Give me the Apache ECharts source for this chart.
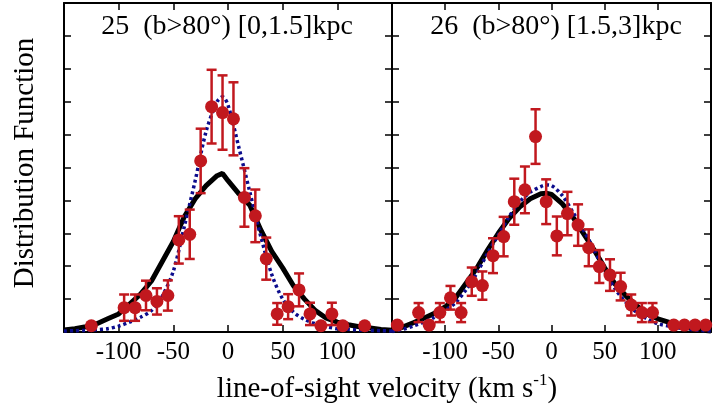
<!DOCTYPE html>
<html>
<head>
<meta charset="utf-8">
<script src="https://cdn.jsdelivr.net/npm/echarts@6/dist/echarts.min.js"></script>
<style>
  html, body { margin: 0; padding: 0; background: #fff; }
  #chart { width: 714px; height: 413px; }
</style>
</head>
<body>
<div id="chart"></div>
<script>
// x axis ticks (km/s)
var velTicks = [-100, -50, 0, 50, 100];

// panel 25: model curves
var leftModelV = [-150, -140, -130, -120, -110, -100, -90, -80, -70, -60, -50, -40, -30, -20, -10, -5, 0, 10, 20, 30, 40, 50, 60, 70, 80, 90, 100, 110, 120, 130, 140, 150];
var leftSolid  = [0.06, 0.10, 0.16, 0.25, 0.40, 0.55, 0.85, 1.15, 1.55, 2.15, 2.75, 3.50, 4.05, 4.45, 4.75, 4.82, 4.60, 4.20, 3.85, 3.10, 2.45, 1.95, 1.40, 1.00, 0.65, 0.42, 0.30, 0.22, 0.16, 0.12, 0.08, 0.05];
var leftDotted = [0.03, 0.04, 0.05, 0.07, 0.10, 0.18, 0.30, 0.45, 0.65, 1.10, 1.85, 3.20, 4.60, 6.10, 7.00, 7.15, 6.90, 5.60, 4.25, 2.90, 1.75, 1.00, 0.60, 0.38, 0.25, 0.16, 0.10, 0.08, 0.06, 0.05, 0.04, 0.03];

// panel 25: observed histogram
var leftObsV = [-125, -95, -85, -75, -65, -55, -45, -35, -25, -15, -5, 5, 15, 25, 35, 45, 55, 65, 75, 85, 95, 105, 125];
var leftObs  = [0.19, 0.74, 0.74, 1.11, 0.93, 1.11, 2.80, 2.97, 5.20, 6.85, 6.67, 6.48, 4.09, 3.53, 2.23, 0.55, 0.77, 1.28, 0.55, 0.19, 0.55, 0.19, 0.19];
var leftErr  = [0, 0.40, 0.40, 0.45, 0.40, 0.46, 0.72, 0.75, 0.98, 1.12, 1.13, 1.11, 0.89, 0.80, 0.64, 0.33, 0.38, 0.50, 0.34, 0, 0.34, 0, 0];

// panel 26: model curves
var rightModelV = [-150, -140, -130, -120, -110, -100, -90, -80, -70, -60, -50, -40, -30, -20, -10, -5, 0, 10, 20, 30, 40, 50, 60, 70, 80, 90, 100, 110, 120, 130, 140, 150];
var rightSolid  = [0.03, 0.15, 0.28, 0.42, 0.57, 0.76, 1.05, 1.50, 1.95, 2.50, 3.00, 3.45, 3.80, 4.05, 4.20, 4.22, 4.18, 3.90, 3.50, 3.00, 2.50, 1.95, 1.45, 1.10, 0.80, 0.55, 0.40, 0.30, 0.20, 0.12, 0.06, 0.03];
var rightDotted = [0.02, 0.08, 0.18, 0.30, 0.45, 0.65, 0.90, 1.30, 1.80, 2.40, 2.95, 3.50, 3.95, 4.25, 4.42, 4.47, 4.45, 4.15, 3.65, 3.10, 2.50, 1.85, 1.30, 0.90, 0.60, 0.40, 0.25, 0.18, 0.12, 0.08, 0.05, 0.03];

// panel 26: observed histogram
var rightObsV = [-145, -125, -115, -105, -95, -85, -75, -65, -55, -45, -35, -25, -15, -5, 5, 15, 25, 35, 45, 55, 65, 75, 85, 95, 115, 125, 135, 145];
var rightObs  = [0.21, 0.59, 0.21, 0.59, 1.04, 0.59, 1.53, 1.41, 2.32, 2.90, 3.96, 4.32, 5.94, 3.96, 2.92, 3.60, 3.25, 2.56, 1.99, 1.73, 1.38, 0.82, 0.59, 0.59, 0.21, 0.21, 0.21, 0.21];
var rightErr  = [0, 0.29, 0, 0.29, 0.36, 0.29, 0.43, 0.43, 0.53, 0.60, 0.70, 0.71, 0.83, 0.68, 0.59, 0.66, 0.63, 0.56, 0.50, 0.48, 0.42, 0.32, 0.29, 0.29, 0, 0, 0, 0];

var RED = '#c1181e';
var BLUE = '#0b0b8c';
var FONT = 'Liberation Serif';

function zip(xs, ys) {
    var out = [];
    for (var i = 0; i < xs.length; i++) out.push([xs[i], ys[i]]);
    return out;
}
function errData(xs, ys, es) {
    var out = [];
    for (var i = 0; i < xs.length; i++) {
        if (es[i] > 0) out.push([xs[i], ys[i] - es[i], ys[i] + es[i]]);
    }
    return out;
}
function renderErr(params, api) {
    var top = api.coord([api.value(0), api.value(2)]);
    var bot = api.coord([api.value(0), api.value(1)]);
    var st = { stroke: RED, lineWidth: 2.5 };
    return {
        type: 'group',
        children: [
            { type: 'line', shape: { x1: top[0], y1: top[1], x2: bot[0], y2: bot[1] }, style: st },
            { type: 'line', shape: { x1: top[0] - 5, y1: top[1], x2: top[0] + 5, y2: top[1] }, style: st },
            { type: 'line', shape: { x1: bot[0] - 5, y1: bot[1], x2: bot[0] + 5, y2: bot[1] }, style: st }
        ]
    };
}

function xAxisFor(grid, pos) {
    return {
        gridIndex: grid, type: 'value', position: pos, min: -150, max: 150, interval: 50,
        axisLine: { onZero: false, lineStyle: { color: '#000', width: 2 } },
        axisTick: { inside: true, length: 7, lineStyle: { color: '#000', width: 1.5 } },
        splitLine: { show: false },
        axisLabel: {
            show: pos === 'bottom', color: '#000', fontFamily: FONT, fontSize: 25, margin: 8,
            formatter: function (v) { return velTicks.indexOf(v) >= 0 ? String(v) : ''; }
        }
    };
}
function yAxisFor(grid, pos) {
    return {
        gridIndex: grid, type: 'value', position: pos, min: 0, max: 10, interval: 1,
        axisLine: { onZero: false, lineStyle: { color: '#000', width: 2 } },
        axisTick: { inside: true, length: 7, lineStyle: { color: '#000', width: 1.5 } },
        splitLine: { show: false },
        axisLabel: { show: false }
    };
}

function panelSeries(xi, yi, modelV, solid, dotted, obsV, obs, err) {
    return [
        {
            type: 'line', xAxisIndex: xi, yAxisIndex: yi, data: zip(modelV, solid),
            showSymbol: false, lineStyle: { color: '#000', width: 5 }, z: 2
        },
        {
            type: 'line', xAxisIndex: xi, yAxisIndex: yi, data: zip(modelV, dotted), smooth: 0.3,
            showSymbol: false, lineStyle: { color: BLUE, width: 3.5, type: [3, 3] }, z: 3
        },
        {
            type: 'custom', xAxisIndex: xi, yAxisIndex: yi, data: errData(obsV, obs, err),
            renderItem: renderErr, z: 4
        },
        {
            type: 'scatter', xAxisIndex: xi, yAxisIndex: yi, data: zip(obsV, obs),
            symbolSize: 13, itemStyle: { color: RED, opacity: 1 }, z: 5
        }
    ];
}

var chart = echarts.init(document.getElementById('chart'));
chart.setOption({
    animation: false,
    backgroundColor: '#fff',
    grid: [
        { left: 64, top: 3, width: 328, height: 329 },
        { left: 392, top: 3, width: 328, height: 329 }
    ],
    xAxis: [xAxisFor(0, 'bottom'), xAxisFor(0, 'top'), xAxisFor(1, 'bottom'), xAxisFor(1, 'top')],
    yAxis: [yAxisFor(0, 'left'), yAxisFor(0, 'right'), yAxisFor(1, 'left'), yAxisFor(1, 'right')],
    graphic: [
        {
            type: 'text', x: 227, y: 27, z: 10,
            style: { text: '25  (b>80°) [0,1.5]kpc', font: '28px "Liberation Serif"', fill: '#000', align: 'center', verticalAlign: 'middle' }
        },
        {
            type: 'text', x: 556, y: 27, z: 10,
            style: { text: '26  (b>80°) [1.5,3]kpc', font: '28px "Liberation Serif"', fill: '#000', align: 'center', verticalAlign: 'middle' }
        },
        {
            type: 'text', x: 25, y: 163, rotation: Math.PI / 2,
            style: { text: 'Distribution Function', font: '29px "Liberation Serif"', fill: '#000', align: 'center', verticalAlign: 'middle' }
        },
        {
            type: 'text', x: 387, y: 389,
            style: {
                text: 'line-of-sight velocity (km s{sup|-1})', fill: '#000', align: 'center', verticalAlign: 'middle',
                fontFamily: FONT, fontSize: 29,
                rich: { sup: { fontFamily: FONT, fontSize: 17, verticalAlign: 'top', padding: [0, 0, 16, 0] } }
            }
        }
    ],
    series: [].concat(
        panelSeries(0, 0, leftModelV, leftSolid, leftDotted, leftObsV, leftObs, leftErr),
        panelSeries(2, 2, rightModelV, rightSolid, rightDotted, rightObsV, rightObs, rightErr)
    )
});
</script>
</body>
</html>
